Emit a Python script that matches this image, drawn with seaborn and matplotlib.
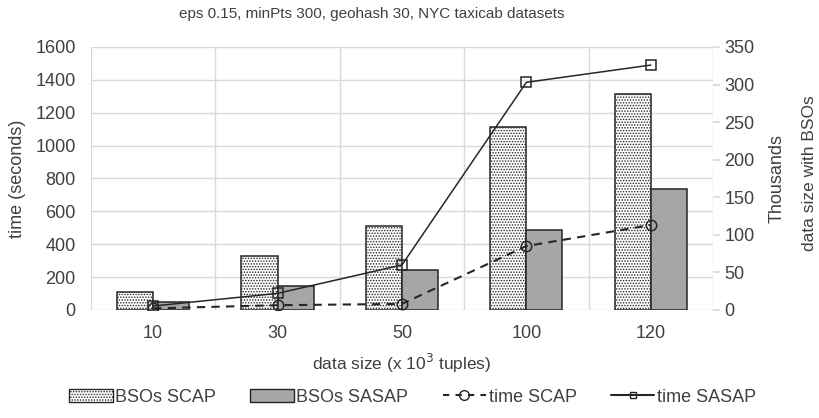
import numpy as np
import pandas as pd
import matplotlib
matplotlib.use("Agg")
import matplotlib.pyplot as plt
import seaborn as sns
from matplotlib.patches import Patch
from matplotlib.lines import Line2D

categories = ["10", "30", "50", "100", "120"]
bsos_scap = [24, 72, 112, 244, 288]      # thousands
bsos_sasap = [11, 32, 53, 106, 161]      # thousands
time_scap = [10, 29, 37, 389, 517]       # seconds
time_sasap = [24, 101, 274, 1385, 1490]  # seconds

sns.set_theme(style="white")
plt.rcParams["font.family"] = ["Liberation Sans", "DejaVu Sans"]
plt.rcParams["hatch.linewidth"] = 0.7
plt.rcParams["hatch.color"] = "#1a1a1a"

TXT = "#404040"
GRID = "#d9d9d9"
LINE = "#262626"

fig = plt.figure(figsize=(8.19, 4.18), dpi=100)
ax_bar = fig.add_axes([0.111, 0.2584, 0.7596, 0.6292])
ax_t = ax_bar.twinx()

df = pd.DataFrame({
    "size": categories * 2,
    "val": bsos_scap + bsos_sasap,
    "series": ["BSOs SCAP"] * len(categories) + ["BSOs SASAP"] * len(categories),
})
sns.barplot(data=df, x="size", y="val", hue="series", order=categories,
            hue_order=["BSOs SCAP", "BSOs SASAP"],
            palette=["white", "#a6a6a6"], width=0.58, gap=0,
            edgecolor="#262626", linewidth=1.1, ax=ax_bar, legend=False)
for i, p in enumerate(ax_bar.patches):
    if i < len(categories):
        p.set_hatch("......")
ax_bar.set_ylim(0, 350)
ax_bar.set_xlim(-0.5, len(categories) - 0.5)
ax_bar.set_yticks(range(0, 351, 50))
ax_bar.yaxis.tick_right()
ax_bar.yaxis.set_label_position("right")
ax_bar.set_ylabel("Thousands", color=TXT, fontsize=13, labelpad=10)
ax_bar.set_xlabel("data size (x 10$^3$ tuples)", color=TXT, fontsize=12.5, labelpad=7)
ax_bar.set_xticks(range(len(categories)))
ax_bar.set_xticklabels(categories)
ax_bar.set_xticks(np.arange(len(categories) + 1) - 0.5, minor=True)
ax_bar.tick_params(axis="x", which="major", length=0, colors=TXT, labelsize=13, pad=11)
ax_bar.tick_params(axis="x", which="minor", length=0)
ax_bar.tick_params(axis="y", length=5, color=GRID, colors=TXT, labelsize=13, pad=3)
ax_bar.grid(False)
ax_bar.xaxis.grid(True, which="minor", color=GRID, linewidth=1)
ax_bar.set_axisbelow(True)
for s in ax_bar.spines.values():
    s.set_visible(False)

ax_t.yaxis.tick_left()
ax_t.yaxis.set_label_position("left")
x = np.arange(len(categories))
sns.lineplot(x=x, y=time_scap, ax=ax_t, color=LINE, linestyle=(0, (4, 3)), linewidth=1.5,
             marker="o", markersize=7.5, markerfacecolor="none", markeredgecolor=LINE,
             markeredgewidth=1.1)
sns.lineplot(x=x, y=time_sasap, ax=ax_t, color=LINE, linestyle="-", linewidth=1.1,
             marker="s", markersize=6.5, markerfacecolor="none", markeredgecolor=LINE,
             markeredgewidth=1.1)
ax_t.set_ylim(0, 1600)
ax_t.set_xlim(-0.5, len(categories) - 0.5)
ax_t.set_yticks(range(0, 1601, 200))
ax_t.set_ylabel("time (seconds)", color=TXT, fontsize=13, labelpad=7)
ax_t.tick_params(axis="y", length=0, colors=TXT, labelsize=13, pad=11)
ax_t.grid(False)
for s in ax_t.spines.values():
    s.set_visible(False)

# horizontal gridlines on the time scale, drawn behind bars
for v in range(0, 1601, 200):
    ax_bar.axhline(v * 350 / 1600, color=GRID, linewidth=1, zorder=0)

fig.text(0.988, 0.586, "data size with BSOs", rotation=90, ha="center", va="center",
         color=TXT, fontsize=12.5)
fig.text(0.454, 0.966, "eps 0.15, minPts 300, geohash 30, NYC taxicab datasets",
         ha="center", va="center", color=TXT, fontsize=11)

handles = [
    Patch(facecolor="white", edgecolor="#262626", hatch="......", label="BSOs SCAP"),
    Patch(facecolor="#a6a6a6", edgecolor="#262626", label="BSOs SASAP"),
    Line2D([0], [0], color=LINE, linestyle=(0, (3, 3)), marker="o", markersize=7,
           markerfacecolor="none", label="time SCAP"),
    Line2D([0], [0], color=LINE, linestyle="-", marker="s", markersize=5,
           markerfacecolor="none", label="time SASAP"),
]
leg = fig.legend(handles=handles, loc="center", bbox_to_anchor=(0.504, 0.05), ncol=4,
                 frameon=False, fontsize=13, handlelength=2.4, handleheight=0.7,
                 columnspacing=1.9, handletextpad=0.15)
for t in leg.get_texts():
    t.set_color(TXT)

fig.savefig("out.png", dpi=100)
